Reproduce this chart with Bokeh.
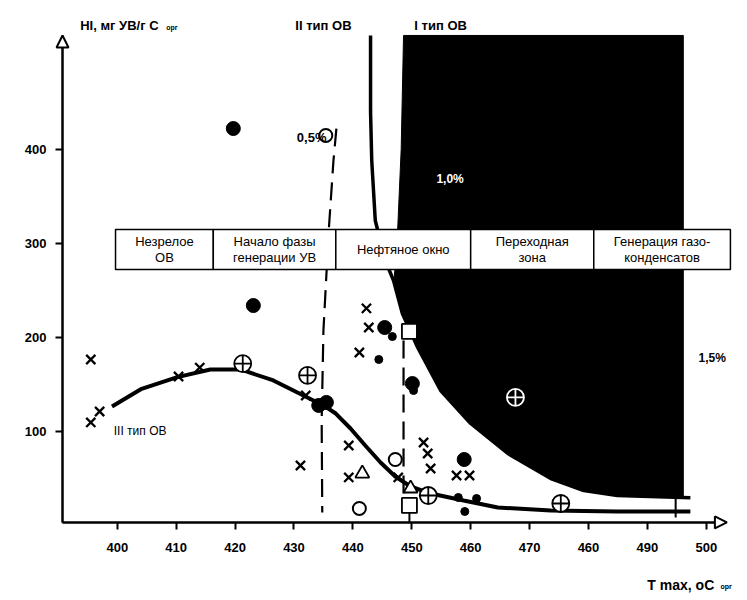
from bokeh.plotting import figure
from bokeh.models import Range1d, FixedTicker, Label, Arrow, NormalHead, ColumnDataSource
from bokeh.core.properties import value
from bokeh.embed import file_html
from bokeh.resources import INLINE

FONT = "Liberation Sans"

# ---------------- data ----------------
x_ticks = [400, 410, 420, 430, 440, 450, 460, 470, 480, 490, 500]
x_tick_labels = ["400", "410", "420", "430", "440", "450", "460", "470", "460", "490", "500"]
y_ticks = [100, 200, 300, 400]

# Type I organic matter field (black area)
type1_area_x = [448.6, 448.2, 447.5, 447.0, 448.4, 451.0, 454.9, 460.0, 466.3, 473.6, 479.2, 484.9, 496.1, 496.1]
type1_area_y = [521.3, 400.0, 300.0, 262.0, 225.5, 189.4, 143.6, 108.5, 76.6, 50.0, 37.2, 31.9, 29.8, 521.3]

# Type I boundary (thick line)
type1_line_x = [443.0, 443.0, 443.2, 443.8, 445.5, 446.9, 448.4, 451.0, 454.9, 460.0, 466.3, 473.6, 479.2, 484.9, 497.3]
type1_line_y = [521.3, 440.0, 388.3, 324.5, 281.9, 260.6, 225.5, 189.4, 143.6, 108.5, 76.6, 50.0, 37.2, 31.9, 29.5]

# Type III trend curve
type3_x = [399.1, 404.0, 410.2, 415.8, 420.9, 426.5, 431.6, 435.0, 437.1, 439.6, 442.1, 444.7, 447.2, 449.8, 453.2, 458.8, 464.6, 473.6, 484.9, 497.3]
type3_y = [126.6, 145.0, 157.8, 166.0, 166.0, 154.3, 138.3, 127.7, 119.1, 103.2, 85.1, 67.0, 52.1, 41.5, 34.0, 26.6, 19.1, 16.0, 14.9, 14.9]

# Ro 0.5 % boundary (dashed)
ro05_x = [437.2, 436.7, 435.9, 435.0, 434.7, 434.8]
ro05_y = [422.3, 388.0, 313.8, 207.4, 111.7, 13.8]
# Ro 1.0 % boundary (dashed)
ro10_x = [448.6, 448.6]
ro10_y = [196.8, 34.0]
# end marks
stem_x0 = [449.6, 494.8]
stem_y0 = [13.8, 34.0]
stem_x1 = [449.6, 494.8]
stem_y1 = [3.2, 8.5]

# Maturity stage boxes
stage_names = ["Незрелое\nОВ", "Начало фазы\nгенерации УВ", "Нефтяное окно", "Переходная\nзона", "Генерация газо-\nконденсатов"]
stage_left = [399.7, 416.3, 437.1, 460.0, 480.9]
stage_right = [416.3, 437.1, 460.0, 480.9, 504.1]
stage_bottom = 272.3
stage_top = 314.9

# Samples
cross_x = [395.5, 395.5, 397.0, 410.4, 414.0, 432.0, 431.1, 439.3, 439.3, 442.3, 442.7, 441.1, 447.7, 452.0, 452.7, 453.2, 457.6, 459.8]
cross_y = [176.6, 109.6, 121.3, 158.5, 168.0, 138.3, 63.8, 85.1, 51.1, 231.0, 210.6, 184.0, 51.1, 88.3, 76.6, 60.6, 53.2, 53.2]
dot_big_x = [419.7, 423.1, 434.2, 435.5, 445.4, 450.1, 458.9]
dot_big_y = [422.3, 234.0, 127.7, 130.9, 210.6, 151.0, 70.2]
dot_small_x = [446.7, 444.4, 450.3, 457.9, 461.0, 459.0]
dot_small_y = [201.0, 176.6, 143.6, 29.8, 28.7, 14.9]
ring_x = [435.4, 447.2, 441.1]
ring_y = [414.9, 70.2, 18.1]
ocross_x = [421.3, 432.3, 452.8, 475.3]
ocross_y = [172.3, 159.6, 31.9, 23.4]
ocross_dark_x = [467.6]
ocross_dark_y = [136.2]
square_x = [449.6, 449.6]
square_y = [206.4, 21.3]
tri_x = [441.6, 449.8]
tri_y = [55.3, 39.4]

# ---------------- figure ----------------
AX_X0, AX_X1 = 390.7, 503.5   # x axis extent (arrow tip)
AX_Y0, AX_Y1 = 3.2, 521.3     # y axis extent (arrow tip)
p = figure(width=747, height=600, x_range=Range1d(380.17, 507.0), y_range=Range1d(-79.8, 558.5),
           output_backend="svg", toolbar_location=None, title=None,
           min_border_left=0, min_border_right=0, min_border_top=0, min_border_bottom=0)
p.outline_line_color = None
p.grid.visible = False
p.background_fill_color = "white"

for ax in (p.xaxis[0], p.yaxis[0]):
    ax.axis_line_width = 2
    ax.axis_line_color = "black"
    ax.major_tick_out = 7
    ax.major_tick_in = 0
    ax.major_tick_line_width = 2
    ax.minor_tick_out = 0
    ax.minor_tick_in = 0
    ax.major_label_text_font = FONT
    ax.major_label_text_font_style = "bold"
    ax.major_label_text_font_size = "13px"
    ax.major_label_text_color = "black"

p.xaxis.ticker = FixedTicker(ticks=x_ticks)
p.xaxis.major_label_overrides = {t: l for t, l in zip(x_ticks, x_tick_labels)}
p.xaxis.major_label_standoff = 14
p.xaxis.bounds = (AX_X0, AX_X1)
p.xaxis.fixed_location = AX_Y0
p.yaxis.ticker = FixedTicker(ticks=y_ticks)
p.yaxis.major_label_standoff = 9
p.yaxis.bounds = (AX_Y0, AX_Y1)
p.yaxis.fixed_location = AX_X0

# Type I black field
p.patch(type1_area_x, type1_area_y, fill_color="black", line_color="black", line_width=1)
p.line(type1_line_x, type1_line_y, line_color="black", line_width=3.5)

# dashed Ro lines
p.line(ro05_x, ro05_y, line_color="black", line_width=2.2, line_dash="18 9")
p.line(ro10_x, ro10_y, line_color="black", line_width=2.2, line_dash="18 9")
p.segment(stem_x0, stem_y0, stem_x1, stem_y1, line_color="black", line_width=2)

# Type III curve
p.line(type3_x, type3_y, line_color="black", line_width=4)

# stage boxes
p.quad(left=stage_left, right=stage_right, bottom=stage_bottom, top=stage_top,
       fill_color="white", line_color="black", line_width=1.5)
stage_src = ColumnDataSource(dict(
    x=[(l + r) / 2 for l, r in zip(stage_left, stage_right)],
    y=[(stage_bottom + stage_top) / 2] * len(stage_names),
    t=stage_names))
p.text(x="x", y="y", text="t", source=stage_src, text_align="center", text_baseline="middle",
       text_font=value(FONT), text_font_size=value("13px"), text_color="black", text_line_height=1.1)

# samples
p.scatter(cross_x, cross_y, marker="x", size=13, line_color="black", line_width=2.3)
p.scatter(dot_big_x, dot_big_y, marker="circle", size=14, fill_color="black", line_color="black")
p.scatter(dot_small_x, dot_small_y, marker="circle", size=8, fill_color="black", line_color="black")
p.scatter(ring_x, ring_y, marker="circle", size=13, fill_color="white", line_color="black", line_width=2)
p.scatter(ocross_x, ocross_y, marker="circle_cross", size=17, fill_color="white", line_color="black", line_width=1.8)
p.scatter(ocross_dark_x, ocross_dark_y, marker="circle_cross", size=17, fill_color="black", line_color="white", line_width=1.8)
p.scatter(square_x, square_y, marker="square", size=15, fill_color="white", line_color="black", line_width=1.8)
p.scatter(tri_x, tri_y, marker="triangle", size=14, fill_color="white", line_color="black", line_width=1.8)

# axis arrows
p.add_layout(Arrow(end=NormalHead(size=12, fill_color="white", line_color="black", line_width=2),
                   x_start=AX_X0, y_start=AX_Y0, x_end=AX_X0, y_end=AX_Y1, line_width=2, line_color="black"))
p.add_layout(Arrow(end=NormalHead(size=12, fill_color="white", line_color="black", line_width=2),
                   x_start=AX_X0, y_start=AX_Y0, x_end=AX_X1, y_end=AX_Y0, line_width=2, line_color="black"))

def lab(x, y, text, size="11px", style="bold", color="black", align="left"):
    p.add_layout(Label(x=x, y=y, text=text, text_font=FONT, text_font_size=size,
                       text_font_style=style, text_color=color, text_align=align,
                       text_baseline="middle"))

lab(393.7, 531.9, "HI, мг УВ/г C", size="13px")
lab(408.3, 530.3, "орг", size="7px")
lab(435.0, 531.9, "II тип ОВ", size="13px", align="center")
lab(454.9, 531.9, "I тип ОВ", size="13px", align="center")
lab(433.0, 412.8, "0,5%", size="13px", align="center")
lab(456.5, 369.0, "1,0%", size="12px", color="white", align="center")
lab(498.7, 177.7, "1,5%", size="12px")
lab(399.4, 101.0, "III тип ОВ", size="12px", style="normal")
lab(490.0, -63.8, "T max, oC", size="14px")
lab(502.4, -65.3, "орг", size="7px")

open("out.html", "w").write(file_html(p, INLINE))
